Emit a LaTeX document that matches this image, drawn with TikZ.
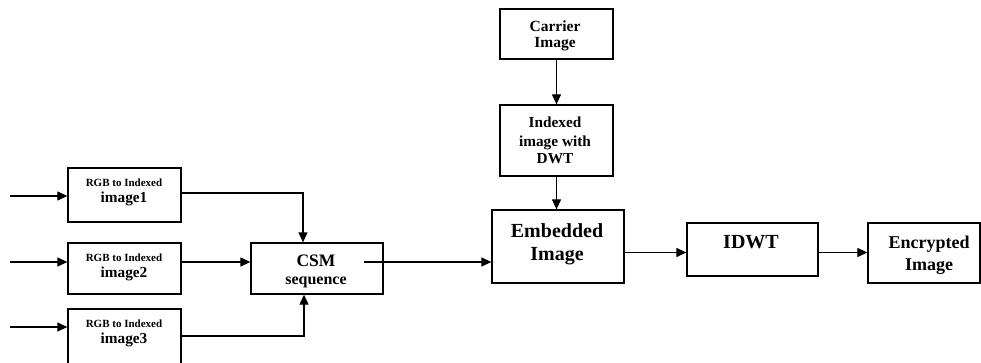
\documentclass[tikz,border=0pt]{standalone}
\usepackage{fontspec}
\setmainfont{Liberation Serif}
\usetikzlibrary{arrows.meta}
\tikzset{
  box/.style={draw, line width=1.3pt, inner sep=0pt},
  arr/.style={line width=1.2pt, -{Triangle[length=10pt,width=9pt]}},
  txt/.style={anchor=base, inner sep=0pt, font=\bfseries},
}
\newcommand{\fs}[1]{\fontsize{#1}{#1}\selectfont}
\begin{document}
\begin{tikzpicture}[x=1pt,y=-1pt]
\useasboundingbox (0,0) rectangle (981,362);
% boxes
\node[box, minimum width=113, minimum height=54] (i1) at (124.5,195) {};
\node[box, minimum width=113, minimum height=51] (i2) at (124.5,268.5) {};
\node[box, minimum width=113, minimum height=59] (i3) at (124.5,338.5) {};
\node[box, minimum width=132, minimum height=51] (csm) at (317,268.5) {};
\node[box, minimum width=113, minimum height=50] (car) at (556.5,34) {};
\node[box, minimum width=113, minimum height=71] (idx) at (556.5,140.5) {};
\node[box, minimum width=132, minimum height=73] (emb) at (558,246.5) {};
\node[box, minimum width=131, minimum height=53] (idwt) at (752.5,249.5) {};
\node[box, minimum width=112, minimum height=60] (enc) at (924,253) {};
% texts
\node[txt, font=\bfseries\fs{11}] (t1a) at (124,186) {RGB to Indexed};
\node[txt, font=\bfseries\fs{15.3}] (t1b) at (124,202.5) {image1};
\node[txt, font=\bfseries\fs{11}] (t2a) at (124,261) {RGB to Indexed};
\node[txt, font=\bfseries\fs{15.3}] (t2b) at (124,277.5) {image2};
\node[txt, font=\bfseries\fs{11}] (t3a) at (124,327) {RGB to Indexed};
\node[txt, font=\bfseries\fs{15.3}] (t3b) at (124,343.5) {image3};
\node[txt, font=\bfseries\fs{17.5}] (tca) at (316,266) {CSM};
\node[txt, font=\bfseries\fs{16}] (tcb) at (316,284) {sequence};
\node[txt, font=\bfseries\fs{15.5}] (tka) at (555,31) {Carrier};
\node[txt, font=\bfseries\fs{15.5}] (tkb) at (555,47) {Image};
\node[txt, font=\bfseries\fs{15.3}] (txa) at (555,127) {Indexed};
\node[txt, font=\bfseries\fs{15.3}] (txb) at (555,146) {image with};
\node[txt, font=\bfseries\fs{15.3}] (txc) at (555,163.5) {DWT};
\node[txt, font=\bfseries\fs{20}] (tea) at (557,237) {Embedded};
\node[txt, font=\bfseries\fs{20}] (teb) at (557,260) {Image};
\node[txt, font=\bfseries\fs{20}] (tia) at (751,248.5) {IDWT};
\node[txt, font=\bfseries\fs{18}] (tna) at (929,248.5) {Encrypted};
\node[txt, font=\bfseries\fs{18}] (tnb) at (929,270) {Image};
% free ends and bends
\coordinate (in1) at (10,196);
\coordinate (in2) at (10,262);
\coordinate (in3) at (10,327);
\coordinate (j1) at (303,193);
\coordinate (j3) at (304,336);
\coordinate (c0) at (364,262);
\coordinate (r) at (0,252.5);
% connectors
\draw[arr] (in1) -- (in1 -| i1.west);
\draw[arr] (in2) -- (in2 -| i2.west);
\draw[arr] (in3) -- (in3 -| i3.west);
\draw[arr] (i1.east |- j1) -- (j1) -- (j1 |- csm.north);
\draw[arr] (i2.east |- in2) -- (csm.west |- in2);
\draw[arr] (i3.east |- j3) -- (j3) -- (j3 |- csm.south);
\draw[arr] (c0) -- (c0 -| emb.west);
\draw[arr] (car.south) -- (idx.north);
\draw[arr] (idx.south) -- (idx.south |- emb.north);
\draw[arr] (emb.east |- r) -- (idwt.west |- r);
\draw[arr] (idwt.east |- r) -- (enc.west |- r);
\end{tikzpicture}
\end{document}
